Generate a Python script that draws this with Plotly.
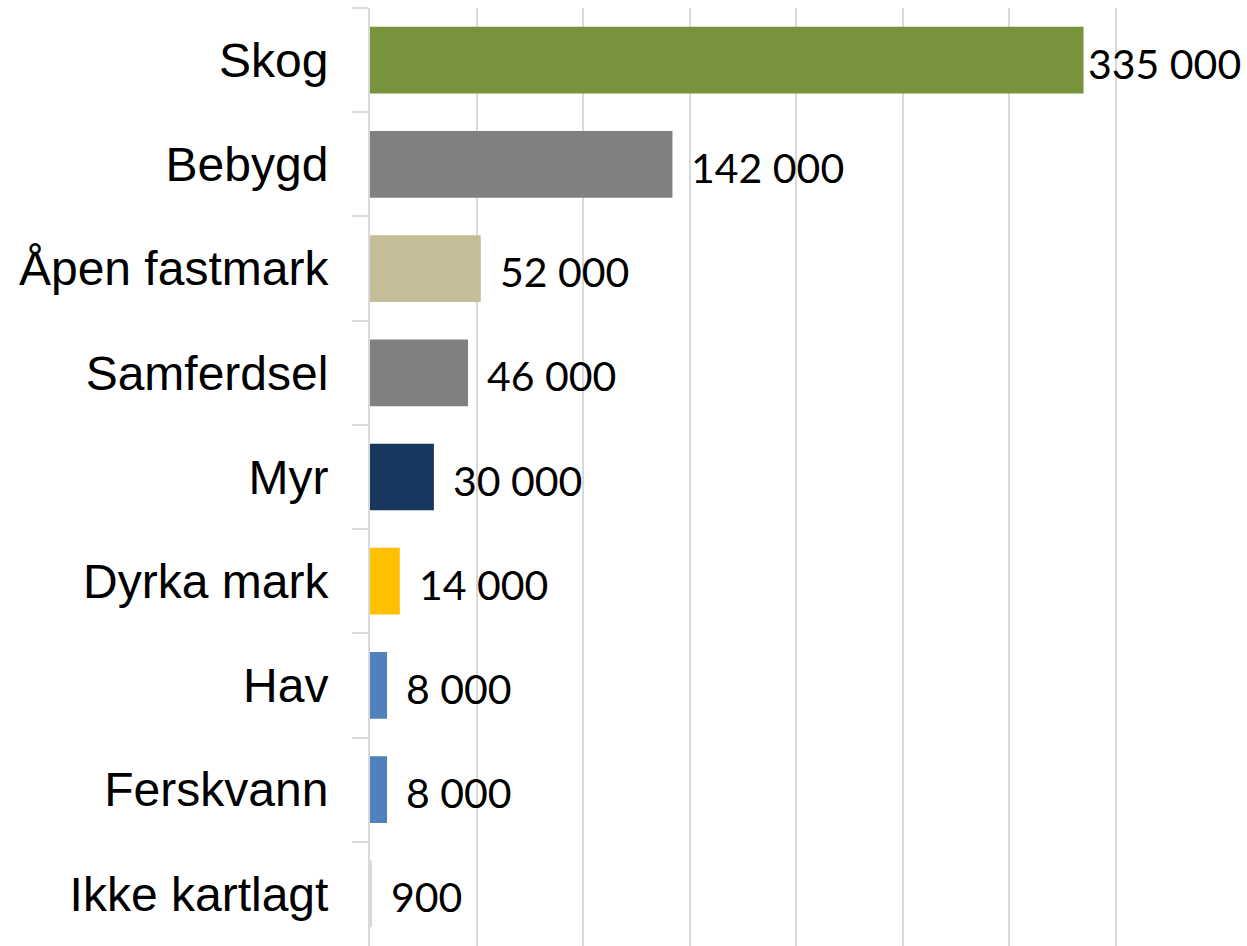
import plotly.graph_objects as go

categories = ["Skog", "Bebygd", "Åpen fastmark", "Samferdsel", "Myr",
              "Dyrka mark", "Hav", "Ferskvann", "Ikke kartlagt"]
values = [335000, 142000, 52000, 46000, 30000, 14000, 8000, 8000, 900]
labels = ["335 000", "142 000", "52 000", "46 000", "30 000",
          "14 000", "8 000", "8 000", "900"]
colors = ["#77933C", "#808080", "#C4BD97", "#808080", "#17375E",
          "#FFC000", "#4F81BD", "#4F81BD", "#D9D9D9"]

X_MAX = 400000

fig = go.Figure()
fig.add_trace(go.Bar(
    y=categories, x=values, orientation="h",
    marker=dict(color=colors, line=dict(width=0)),
    width=0.64, hoverinfo="skip", showlegend=False,
))

for cat, v, lab in zip(categories, values, labels):
    # Labels that would run past the plot edge are pulled closer to the bar
    shift = 2 if v > 0.8 * X_MAX else 17
    fig.add_annotation(
        x=v, y=cat, text=lab, showarrow=False,
        xanchor="left", yanchor="middle", xshift=shift, yshift=-3,
        font=dict(family="Lato", size=41, color="#000000"),
    )

fig.update_layout(
    width=1247, height=946,
    margin=dict(l=370, r=25, t=8, b=0),
    paper_bgcolor="white", plot_bgcolor="white",
    bargap=0.36,
)
fig.update_xaxes(
    range=[0, X_MAX], dtick=50000, showticklabels=False,
    showgrid=True, gridcolor="#D9D9D9", gridwidth=2,
    zeroline=False, showline=False, ticks="",
)
fig.update_yaxes(
    autorange="reversed", type="category",
    showline=True, linecolor="#D9D9D9", linewidth=2,
    ticks="outside", tickson="boundaries", ticklen=16,
    tickcolor="#D9D9D9", tickwidth=2,
    tickfont=dict(family="Liberation Sans, Arial", size=48, color="#000000"),
    ticklabelstandoff=30, showgrid=False,
)

fig.write_html("out.html")
